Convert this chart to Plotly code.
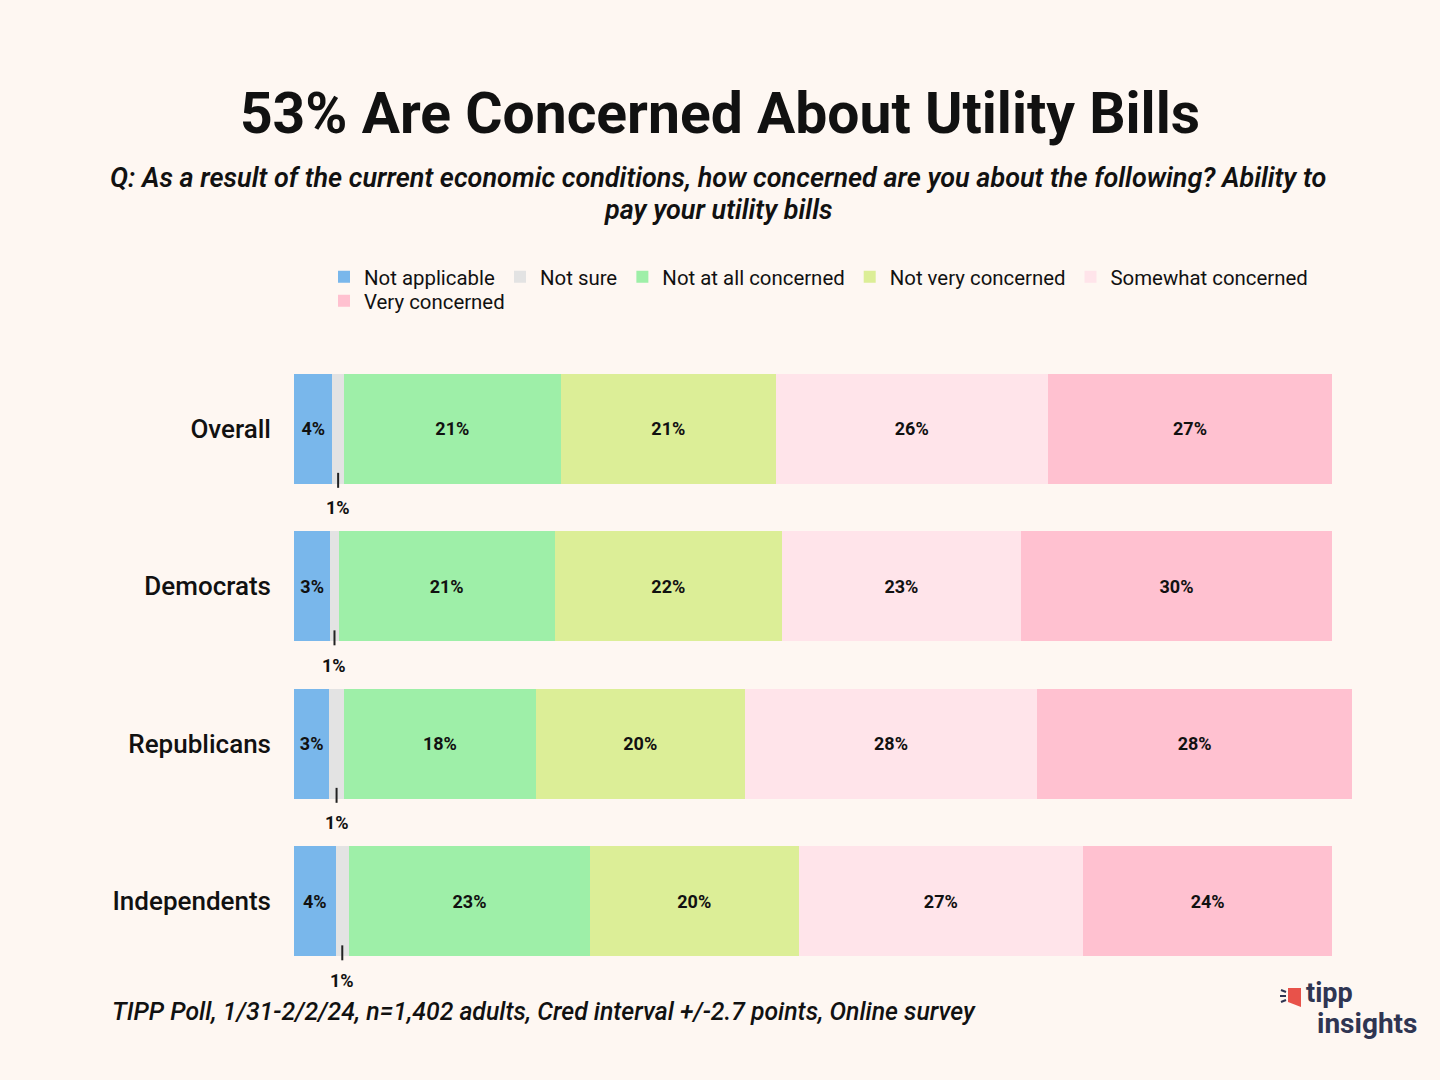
import plotly.graph_objects as go

# ---------------- data ----------------
categories = ["Overall", "Democrats", "Republicans", "Independents"]
series_names = ["Not applicable", "Not sure", "Not at all concerned",
                "Not very concerned", "Somewhat concerned", "Very concerned"]
series_colors = ["#79B7EB", "#E3E3E3", "#9EEFA8", "#DCEE97", "#FFE4EA", "#FFC1D0"]

# bar lengths (percent)
not_applicable = [3.7, 3.5, 3.4, 4.0]
not_sure = [1.1, 0.8, 1.4, 1.3]
not_at_all = [20.9, 20.8, 18.5, 23.2]
not_very = [20.7, 21.9, 20.1, 20.1]
somewhat = [26.2, 23.0, 28.2, 27.4]
very = [27.4, 30.0, 30.3, 24.0]

# printed labels (percent)
not_applicable_lbl = [4, 3, 3, 4]
not_sure_lbl = [1, 1, 1, 1]
not_at_all_lbl = [21, 21, 18, 23]
not_very_lbl = [21, 22, 20, 20]
somewhat_lbl = [26, 23, 28, 27]
very_lbl = [27, 30, 28, 24]

values = [not_applicable, not_sure, not_at_all, not_very, somewhat, very]
labels = [not_applicable_lbl, not_sure_lbl, not_at_all_lbl, not_very_lbl, somewhat_lbl, very_lbl]

title = "53% Are Concerned About Utility Bills"
subtitle_lines = ["Q: As a result of the current economic conditions, how concerned are you about the following? Ability to",
                  "pay your utility bills"]
footer = "TIPP Poll, 1/31-2/2/24, n=1,402 adults, Cred interval +/-2.7 points, Online survey"

BG = "#FEF7F2"
FONT = "Roboto"
INK = "#111111"
W, H = 1440, 1080
ML, MR, MT, MB = 294, 87, 350, 100
plot_w = W - ML - MR
plot_h = H - MT - MB


def px(xp):
    return (xp - ML) / plot_w


def py(yp):
    return 1 - (yp - MT) / plot_h


fig = go.Figure()
for k, (name, col, vals, lbls) in enumerate(zip(series_names, series_colors, values, labels)):
    txt = ["" if name == "Not sure" else f"{v}%" for v in lbls]
    fig.add_trace(go.Bar(
        y=categories, x=vals, name=name, orientation="h",
        marker=dict(color=col, line=dict(width=0)),
        width=0.7,
        text=txt, textposition="inside", insidetextanchor="middle",
        textfont=dict(family=FONT, size=18, color=INK, weight="bold"),
        constraintext="none",
        legend="legend" if k < 5 else "legend2",
        hoverinfo="skip",
    ))

# callouts for the thin "Not sure" segments
for i, cat in enumerate(categories):
    xc = not_applicable[i] + not_sure[i] / 2
    fig.add_shape(type="line", xref="x", yref="y", x0=xc, x1=xc, y0=i + 0.28, y1=i + 0.375,
                  line=dict(color="#222222", width=2))
    fig.add_annotation(x=xc, y=i + 0.5, xref="x", yref="y", text=f"<b>{not_sure_lbl[i]}%</b>",
                       showarrow=False, font=dict(family=FONT, size=18, color=INK),
                       xanchor="center", yanchor="middle")

for line, ypix in zip(subtitle_lines, [178, 210]):
    fig.add_annotation(text=line, xref="paper", yref="paper", x=px(718), y=py(ypix),
                       xanchor="center", yanchor="middle", showarrow=False, align="center",
                       font=dict(family=FONT, size=27, color=INK, style="italic", weight=600))
fig.add_annotation(text=footer, xref="paper", yref="paper", x=px(110), y=py(1011),
                   xanchor="left", yanchor="middle", showarrow=False,
                   font=dict(family=FONT, size=24.8, color=INK, style="italic", weight=500))

# logo
logo_navy = "#2F3552"
fig.add_annotation(text="<b>tipp</b>", xref="paper", yref="paper", x=px(1304), y=py(993),
                   xanchor="left", yanchor="middle", showarrow=False,
                   font=dict(family=FONT, size=27, color=logo_navy))
fig.add_annotation(text="<b>insights</b>", xref="paper", yref="paper", x=px(1315), y=py(1023),
                   xanchor="left", yanchor="middle", showarrow=False,
                   font=dict(family=FONT, size=28, color=logo_navy))
fig.add_shape(type="path", xref="paper", yref="paper", layer="above", line=dict(width=0),
              fillcolor="#E8524A",
              path=f"M {px(1288)} {py(988)} L {px(1301)} {py(988)} L {px(1301)} {py(1007)} "
                   f"L {px(1288)} {py(1002)} Z")
for (x0, y0, x1, y1) in [(1281, 990, 1286, 992), (1280, 996, 1286, 996), (1281, 1002, 1286, 1000)]:
    fig.add_shape(type="line", xref="paper", yref="paper", layer="above",
                  x0=px(x0), y0=py(y0), x1=px(x1), y1=py(y1), line=dict(color=logo_navy, width=2))

fig.update_layout(
    width=W, height=H,
    paper_bgcolor=BG, plot_bgcolor=BG,
    barmode="stack", bargap=0.3,
    margin=dict(l=ML, r=MR, t=MT, b=MB, autoexpand=False),
    title=dict(text=f"<b>{title}</b>", x=0.5, xanchor="center", xref="container",
               y=1 - 113 / H, yref="container", yanchor="middle",
               font=dict(family=FONT, size=57, color=INK)),
    font=dict(family=FONT, color=INK),
    xaxis=dict(range=[0, 102], visible=False, fixedrange=True),
    yaxis=dict(range=[3.5, -0.5], autorange=False, showgrid=False, zeroline=False, showline=False,
               ticks="", ticklabelstandoff=22, fixedrange=True,
               tickfont=dict(family=FONT, size=26, color=INK, weight=500)),
    legend=dict(orientation="h", xref="container", yref="container",
                x=324 / W, xanchor="left", y=1 - 277 / H, yanchor="middle",
                font=dict(family=FONT, size=20.4, color=INK), bgcolor="rgba(0,0,0,0)",
                traceorder="normal", itemclick=False),
    legend2=dict(orientation="h", xref="container", yref="container",
                 x=324 / W, xanchor="left", y=1 - 301 / H, yanchor="middle",
                 font=dict(family=FONT, size=20.4, color=INK), bgcolor="rgba(0,0,0,0)",
                 itemclick=False),
    showlegend=True,
)

fig.write_html("out.html", config={"displayModeBar": False},
               post_script=f"document.body.style.margin='0';document.body.style.background='{BG}';")
